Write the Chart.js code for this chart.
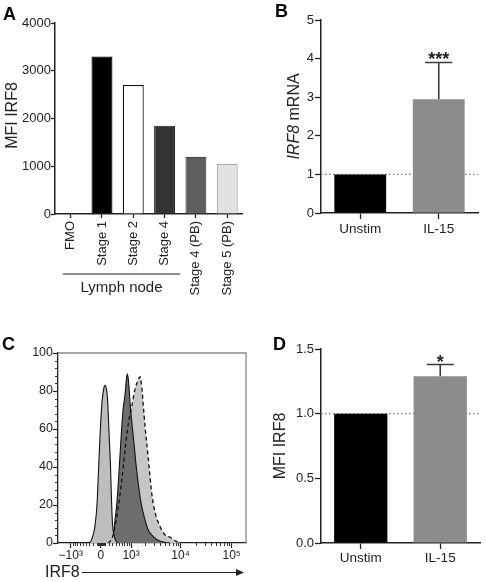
<!DOCTYPE html>
<html>
<head>
<meta charset="utf-8">
<script src="https://cdn.jsdelivr.net/npm/chart.js@4.4.1/dist/chart.umd.min.js"></script>
<style>
  html, body { margin: 0; padding: 0; background: #fff; }
  #wrap { position: relative; width: 486px; height: 582px; overflow: hidden; }
  canvas { position: absolute; }
</style>
</head>
<body>
<div id="wrap">
  <canvas id="chartA" width="246" height="300" style="left:0;top:0"></canvas>
  <canvas id="chartB" width="243" height="300" style="left:243px;top:0"></canvas>
  <canvas id="chartC" width="250" height="282" style="left:0;top:300px"></canvas>
  <canvas id="chartD" width="243" height="282" style="left:243px;top:300px"></canvas>
</div>
<script>
const FONT = "'Liberation Sans', Arial, Helvetica, sans-serif";

// panel A - MFI of IRF8 per NK stage
const aCategories = ["FMO", "Stage 1", "Stage 2", "Stage 4", "Stage 4 (PB)", "Stage 5 (PB)"];
const aValues = [0, 3300, 2700, 1850, 1200, 1050];
const aColors = ["#000000", "#000000", "#ffffff", "#333333", "#5e5e5e", "#e2e2e2"];
const aBorders = ["#000000", "#000000", "#111111", "#222222", "#4a4a4a", "#a8a8a8"];
const aGroupLabel = "Lymph node";
const aGroupFrom = 0;   // FMO
const aGroupTo = 3;     // Stage 4

// panel B - IRF8 mRNA
const bCategories = ["Unstim", "IL-15"];
const bValues = [1, 2.95];
const bErrors = [0, 0.95];
const bStars = ["", "***"];

// panel C - histograms, x in logicle display units
const cTickValues = [-1000, 0, 1000, 10000, 100000];
const cTickLabels = ["\u221210\u00b3", "0", "10\u00b3", "10\u2074", "10\u2075"];
const fmoX = [1.60, 2.157, 2.216, 2.255, 2.294, 2.333, 2.363, 2.392, 2.431, 2.471, 2.490, 2.510, 2.539, 2.569, 2.598, 2.618, 2.637, 2.667, 2.706, 2.745];
const fmoY = [0, 0, 1, 4, 9, 20, 38, 56, 74, 82, 83, 82, 76, 58, 40, 22, 10, 4, 1, 0];
const unstimX = [2.588, 2.627, 2.657, 2.686, 2.725, 2.765, 2.804, 2.843, 2.882, 2.908, 2.927, 2.951, 2.980, 3.020, 3.059, 3.098, 3.147, 3.196, 3.255, 3.333, 3.431, 3.529, 3.667, 3.765];
const unstimY = [0, 2, 5, 12, 22, 38, 55, 70, 78, 86, 89, 85, 74, 62, 52, 41, 30, 21, 14, 7, 3.5, 1.5, 0.3, 0];
const il15X = [2.549, 2.608, 2.647, 2.686, 2.751, 2.818, 2.882, 2.947, 3.014, 3.078, 3.127, 3.176, 3.210, 3.241, 3.275, 3.339, 3.406, 3.471, 3.569, 3.667, 3.765, 3.863, 3.961];
const il15Y = [0, 1.5, 4, 8.6, 19, 33, 49, 63, 72, 81, 85, 87.5, 82, 72, 61, 44, 26, 16, 8.6, 4.2, 3, 1.2, 0];

// panel D - MFI IRF8 relative
const dCategories = ["Unstim", "IL-15"];
const dValues = [1, 1.29];
const dErrors = [0, 0.09];
const dStars = ["", "*"];

Chart.defaults.font.family = FONT;
Chart.defaults.color = "#222";
Chart.defaults.animation = false;
Chart.defaults.plugins.legend.display = false;
Chart.defaults.plugins.tooltip.enabled = false;

// asinh-like transform used by the flow axis
function logicle(v) {
  return 2.41 + 0.434 * Math.asinh(v / 550);
}

function minorFlowTicks() {
  const out = [];
  for (let v = -900; v <= 900; v += 100) if (v !== 0) out.push(v);
  for (let v = -90; v <= 90; v += 10) out.push(v);
  for (let k = 1000; k <= 10000; k *= 10)
    for (let m = 2; m <= 9; m++) out.push(m * k);
  return out;
}

const panelLetter = {
  id: "panelLetter",
  afterDraw(chart, args, opts) {
    const ctx = chart.ctx;
    ctx.save();
    ctx.font = "bold 18px " + FONT;
    ctx.fillStyle = "#000";
    ctx.textBaseline = "alphabetic";
    ctx.fillText(opts.text, opts.x, opts.y);
    ctx.restore();
  }
};

const yTitle = {
  id: "yTitle",
  afterDraw(chart, args, opts) {
    const { ctx, chartArea } = chart;
    const cy = (chartArea.top + chartArea.bottom) / 2 + (opts.dy || 0);
    ctx.save();
    ctx.translate(opts.x, cy);
    ctx.rotate(-Math.PI / 2);
    const fonts = opts.parts.map(p => (p.italic ? "italic " : "") + "16px " + FONT);
    let total = 0;
    opts.parts.forEach((p, i) => { ctx.font = fonts[i]; total += ctx.measureText(p.text).width; });
    let x = -total / 2;
    ctx.textBaseline = "middle";
    ctx.fillStyle = "#222";
    opts.parts.forEach((p, i) => {
      ctx.font = fonts[i];
      ctx.fillText(p.text, x, 0);
      x += ctx.measureText(p.text).width;
    });
    ctx.restore();
  }
};

const refLine = {
  id: "refLine",
  beforeDatasetsDraw(chart, args, opts) {
    const { ctx, chartArea, scales } = chart;
    const py = scales.y.getPixelForValue(opts.value);
    ctx.save();
    ctx.strokeStyle = "#777";
    ctx.lineWidth = 1.2;
    ctx.setLineDash([1.5, 2.5]);
    ctx.beginPath();
    ctx.moveTo(chartArea.left, py);
    ctx.lineTo(chartArea.right, py);
    ctx.stroke();
    ctx.restore();
  }
};

const errorBars = {
  id: "errorBars",
  afterDatasetsDraw(chart, args, opts) {
    const { ctx, scales } = chart;
    const ds = chart.data.datasets[0];
    chart.getDatasetMeta(0).data.forEach((bar, i) => {
      const err = opts.errors[i];
      if (!err) return;
      const top = scales.y.getPixelForValue(ds.data[i] + err);
      ctx.save();
      ctx.strokeStyle = "#3a3a3a";
      ctx.lineWidth = 1.6;
      ctx.beginPath();
      ctx.moveTo(bar.x, bar.y);
      ctx.lineTo(bar.x, top);
      ctx.moveTo(bar.x - 13.5, top);
      ctx.lineTo(bar.x + 13.5, top);
      ctx.stroke();
      if (opts.stars[i]) {
        ctx.font = "bold 18px " + FONT;
        ctx.textAlign = "center";
        ctx.fillStyle = "#222";
        ctx.fillText(opts.stars[i], bar.x, top + 3);
      }
      ctx.restore();
    });
  }
};

const groupLabel = {
  id: "groupLabel",
  afterDraw(chart, args, opts) {
    const { ctx, scales } = chart;
    const half = (scales.x.getPixelForValue(1) - scales.x.getPixelForValue(0)) / 2;
    const left = scales.x.getPixelForValue(aGroupFrom) - half * 0.5;
    const right = scales.x.getPixelForValue(aGroupTo) + half;
    ctx.save();
    ctx.strokeStyle = "#222";
    ctx.lineWidth = 1.2;
    ctx.beginPath();
    ctx.moveTo(left, 274);
    ctx.lineTo(right, 274);
    ctx.stroke();
    ctx.font = "15px " + FONT;
    ctx.fillStyle = "#222";
    ctx.textAlign = "center";
    ctx.textBaseline = "middle";
    ctx.fillText(aGroupLabel, (left + right) / 2, 288);
    ctx.restore();
  }
};

const flowExtras = {
  id: "flowExtras",
  afterDraw(chart) {
    const { ctx, chartArea: a, scales } = chart;
    ctx.save();
    ctx.strokeStyle = "#333";
    ctx.lineWidth = 1;
    ctx.beginPath();
    for (let v = 4; v < 100; v += 4) {
      if (v % 20 === 0) continue;
      const py = Math.round(scales.y.getPixelForValue(v)) + 0.5;
      ctx.moveTo(a.left - 3, py);
      ctx.lineTo(a.left, py);
    }
    minorFlowTicks().forEach(v => {
      const px = Math.round(scales.x.getPixelForValue(logicle(v))) + 0.5;
      ctx.moveTo(px, a.bottom);
      ctx.lineTo(px, a.bottom + 3);
    });
    ctx.stroke();

    ctx.strokeStyle = "#8a8a8a";
    ctx.lineWidth = 1.3;
    ctx.beginPath();
    ctx.moveTo(a.left, a.top);
    ctx.lineTo(a.right, a.top);
    ctx.lineTo(a.right, a.bottom);
    ctx.stroke();

    // axis name with arrow
    const ty = 272.5;
    ctx.font = "16px " + FONT;
    ctx.fillStyle = "#222";
    ctx.textBaseline = "middle";
    ctx.fillText("IRF8", 45, ty);
    ctx.strokeStyle = "#222";
    ctx.lineWidth = 1.2;
    ctx.beginPath();
    ctx.moveTo(82, ty);
    ctx.lineTo(238, ty);
    ctx.stroke();
    ctx.fillStyle = "#222";
    ctx.beginPath();
    ctx.moveTo(244, ty);
    ctx.lineTo(236, ty - 3.5);
    ctx.lineTo(236, ty + 3.5);
    ctx.closePath();
    ctx.fill();
    ctx.restore();
  }
};

function barAxes(yMin, yMax, step, yWidth, xHeight, xPad, tickFmt) {
  return {
    x: {
      grid: { offset: false, drawOnChartArea: false, tickLength: 6, color: "#222", tickWidth: 1.3 },
      border: { color: "#222", width: 1.5 },
      ticks: { font: { size: 13.5 }, padding: xPad, color: "#222" },
      afterFit: s => { s.height = xHeight; }
    },
    y: {
      min: yMin, max: yMax,
      grid: { drawOnChartArea: false, tickLength: 6, color: "#222", tickWidth: 1.3 },
      border: { color: "#222", width: 1.5 },
      ticks: { stepSize: step, font: { size: 13 }, padding: 1, color: "#222", callback: tickFmt },
      afterFit: s => { s.width = yWidth; }
    }
  };
}

// A
new Chart(document.getElementById("chartA"), {
  type: "bar",
  data: {
    labels: aCategories,
    datasets: [{
      data: aValues,
      backgroundColor: aColors,
      borderColor: aBorders,
      borderWidth: 1.2,
      barPercentage: 0.67,
      categoryPercentage: 1
    }]
  },
  options: {
    responsive: false,
    layout: { padding: { top: 23, right: 2, left: 0, bottom: 0 } },
    scales: {
      x: {
        grid: { offset: false, drawOnChartArea: false, tickLength: 4, color: "#222", tickWidth: 1.3 },
        border: { color: "#222", width: 1.5 },
        ticks: { font: { size: 13 }, padding: 3, minRotation: 90, maxRotation: 90, autoSkip: false, color: "#222" },
        afterFit: s => { s.height = 86; }
      },
      y: {
        min: 0, max: 4000,
        grid: { drawOnChartArea: false, tickLength: 4, color: "#222", tickWidth: 1.3 },
        border: { color: "#222", width: 1.5 },
        ticks: { stepSize: 1000, font: { size: 13 }, padding: 0, color: "#222", callback: v => String(v) },
        afterFit: s => { s.width = 55; }
      }
    },
    plugins: {
      panelLetter: { text: "A", x: 3, y: 20 },
      yTitle: { x: 13, dy: -3, parts: [{ text: "MFI IRF8" }] }
    }
  },
  plugins: [panelLetter, yTitle, groupLabel]
});

// B
new Chart(document.getElementById("chartB"), {
  type: "bar",
  data: {
    labels: bCategories,
    datasets: [{
      data: bValues,
      backgroundColor: ["#000000", "#8c8c8c"],
      borderWidth: 0,
      barPercentage: 0.66,
      categoryPercentage: 1
    }]
  },
  options: {
    responsive: false,
    layout: { padding: { top: 20, right: 8, left: 0, bottom: 57 } },
    scales: barAxes(0, 5, 1, 78, 30, 2),
    plugins: {
      panelLetter: { text: "B", x: 32, y: 17 },
      yTitle: { x: 52, parts: [{ text: "IRF8", italic: true }, { text: " mRNA" }] },
      refLine: { value: 1 },
      errorBars: { errors: bErrors, stars: bStars }
    }
  },
  plugins: [panelLetter, yTitle, refLine, errorBars]
});

// C
const histPoints = (xs, ys) => xs.map((x, i) => ({ x: x, y: ys[i] }));
new Chart(document.getElementById("chartC"), {
  type: "line",
  data: {
    datasets: [
      { label: "IL-15 outline", data: histPoints(il15X, il15Y), borderColor: "#111", borderWidth: 1.3, borderDash: [4, 3], fill: false },
      { label: "FMO", data: histPoints(fmoX, fmoY), borderColor: "#111", borderWidth: 1.1, backgroundColor: "#bdbdbd", fill: "origin" },
      { label: "Unstim", data: histPoints(unstimX, unstimY), borderColor: "#111", borderWidth: 1.1, backgroundColor: "#6e6e6e", fill: "origin" },
      { label: "IL-15", data: histPoints(il15X, il15Y), borderWidth: 0, backgroundColor: "#c6c6c6", fill: "origin" }
    ]
  },
  options: {
    responsive: false,
    layout: { padding: { top: 53, right: 4, left: 0, bottom: 0 } },
    elements: { point: { radius: 0 }, line: { cubicInterpolationMode: "monotone" } },
    scales: {
      x: {
        type: "linear", min: 1.57, max: 5.25,
        afterBuildTicks: s => { s.ticks = cTickValues.map(v => ({ value: logicle(v) })); },
        ticks: { callback: (v, i) => cTickLabels[i], autoSkip: false, maxRotation: 0, font: { size: 12 }, padding: 0, color: "#222" },
        grid: { drawOnChartArea: false, tickLength: 5, color: "#222", tickWidth: 1.2 },
        border: { color: "#222", width: 1.3 },
        afterFit: s => { s.height = 39; }
      },
      y: {
        min: 0, max: 100,
        ticks: { stepSize: 20, font: { size: 12.5 }, padding: 0, color: "#222" },
        grid: { drawOnChartArea: false, tickLength: 5, color: "#222", tickWidth: 1.2 },
        border: { color: "#222", width: 1.3 },
        afterFit: s => { s.width = 58; }
      }
    },
    plugins: {
      panelLetter: { text: "C", x: 2, y: 50 }
    }
  },
  plugins: [panelLetter, flowExtras]
});

// D
new Chart(document.getElementById("chartD"), {
  type: "bar",
  data: {
    labels: dCategories,
    datasets: [{
      data: dValues,
      backgroundColor: ["#000000", "#8c8c8c"],
      borderWidth: 0,
      barPercentage: 0.67,
      categoryPercentage: 1
    }]
  },
  options: {
    responsive: false,
    layout: { padding: { top: 49, right: 6, left: 0, bottom: 11 } },
    scales: barAxes(0, 1.5, 0.5, 78, 28, 1, v => v.toFixed(1)),
    plugins: {
      panelLetter: { text: "D", x: 30, y: 50 },
      yTitle: { x: 38, parts: [{ text: "MFI IRF8" }] },
      refLine: { value: 1 },
      errorBars: { errors: dErrors, stars: dStars }
    }
  },
  plugins: [panelLetter, yTitle, refLine, errorBars]
});
</script>
</body>
</html>
